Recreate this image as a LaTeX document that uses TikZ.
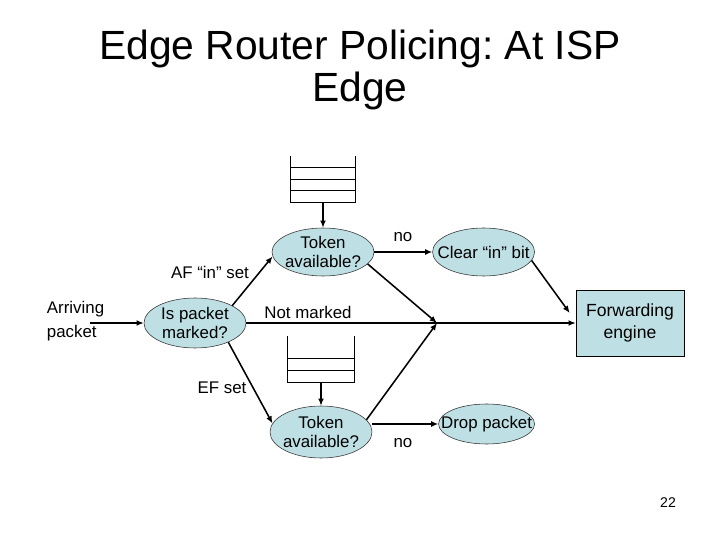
\documentclass[tikz,border=0pt]{standalone}
\usepackage{fontspec}
\setmainfont{Liberation Sans}
\usepackage{tikz}
\usetikzlibrary{arrows.meta,positioning,shapes.geometric}
\definecolor{nodefill}{RGB}{190,224,228}
\frenchspacing

\begin{document}
\begin{tikzpicture}[
    test/.style={ellipse, draw=black!80, fill=nodefill, align=center, font=\fontsize{12}{14}\selectfont,
                 inner xsep=-5mm, inner ysep=-1mm, minimum width=2.55cm, minimum height=1.2cm},
    engine/.style={draw, fill=nodefill, align=center, font=\fontsize{12.5}{15}\selectfont,
                   minimum width=2.7cm, minimum height=1.65cm},
    queue/.style={inner sep=0pt, minimum width=1.625cm, minimum height=1.15cm},
    lab/.style={font=\fontsize{12}{14}\selectfont},
    arrow/.style={-{Latex[length=1.8mm,width=1.5mm]}, line width=1.1pt}
  ]
    \useasboundingbox (0,0) rectangle (18,13.5);
    \node[align=center, font=\fontsize{29}{30.5}\selectfont] (title) at (9,11.75)
      {Edge Router Policing: At ISP\\Edge};

    \node[lab, font=\fontsize{12}{17.5}\selectfont, align=left, anchor=west] (arrive) at (1.05,5.47) {Arriving\\packet};
    \coordinate (in) at (2.25,5.425);
    \node[test, minimum height=1.25cm] (mark) at (4.875,5.425) {Is packet\\marked?};
    \node[test] (tokA) at (8.075,7.2) {Token\\available?};
    \node[test, right=1.45cm of tokA] (clear) {Clear “in” bit};
    \node[test, minimum height=1.3cm] (tokB) at (8.025,2.7) {Token\\available?};
    \node[test, minimum width=2.4cm, minimum height=1.0cm, right=1.65cm of tokB, yshift=2mm] (drop) {Drop packet};
    \node[engine] (fwd) at (15.75,5.425) {Forwarding\\engine};
    \coordinate (join) at (10.925,5.425);

    % token buckets
    \node[queue, above=0.625cm of tokA] (qA) {};
    \draw[line width=0.6pt] (qA.north west) |- (qA.south east) -- (qA.north east);
    \foreach \h in {0.3,0.575,0.875}
      \draw[line width=0.6pt] ([yshift=\h cm]qA.south west) -- ([yshift=\h cm]qA.south east);
    \node[queue, minimum width=1.65cm, above=0.575cm of tokB] (qB) {};
    \draw[line width=0.6pt] (qB.north west) |- (qB.south east) -- (qB.north east);
    \foreach \h in {0.3,0.6}
      \draw[line width=0.6pt] ([yshift=\h cm]qB.south west) -- ([yshift=\h cm]qB.south east);

    \node[lab] (af) at (5.25,6.7) {AF “in” set};
    \node[lab] (notm) at (7.7,5.7) {Not marked};
    \node[lab] (ef) at (5.55,3.8) {EF set};
    \node[lab] (noA) at (10.075,7.575) {no};
    \node[lab] (noB) at (10.075,2.425) {no};
    \node[font=\fontsize{10}{12}\selectfont] (page) at (16.7,0.925) {22};

    \draw[arrow] (in) -- (mark);
    \draw[arrow] (mark.25) -- (tokA.185);
    \draw[arrow] (mark.330) -- (tokB.170);
    \draw[arrow] (mark) -- (fwd);
    \draw[arrow] (qA) -- (tokA);
    \draw[arrow] (qB) -- (tokB);
    \draw[arrow] (tokA) -- (clear);
    \draw[arrow] (tokB.east |- drop) -- (drop);
    \draw[arrow] (tokA.345) -- (join);
    \draw[arrow] (tokB.15) -- (join);
    \draw[arrow] (clear.350) -- ([xshift=-1.5mm,yshift=2.5mm]fwd.west);
  \end{tikzpicture}
\end{document}
